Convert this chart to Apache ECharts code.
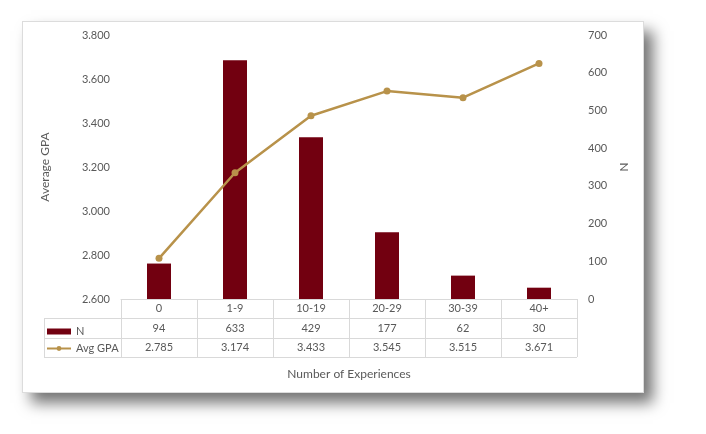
<!DOCTYPE html>
<html>
<head>
<meta charset="UTF-8">
<title>GPA by experiences</title>
<script src="https://cdn.jsdelivr.net/npm/echarts@6/dist/echarts.min.js"></script>
<style>
	html, body { margin: 0; padding: 0; background: #fff; }
	#card {
		position: absolute;
		left: 22px; top: 21px;
		width: 620px; height: 370px;
		background: #fff;
		border: 1px solid #dcdcdc;
		box-shadow: 9px 10px 14px rgba(0, 0, 0, 0.55);
	}
	#chart { position: absolute; left: 0; top: 0; width: 706px; height: 434px; }
</style>
</head>
<body>
<div id="card"></div>
<div id="chart"></div>
<script>
	var categories = ['0', '1-9', '10-19', '20-29', '30-39', '40+'];
	var nValues = [94, 633, 429, 177, 62, 30];
	var gpaValues = [2.785, 3.174, 3.433, 3.545, 3.515, 3.671];

	var txt = '#595959';
	var line = '#d9d9d9';
	var font = 'Lato, "Open Sans", sans-serif';

	var chart = echarts.init(document.getElementById('chart'));

	function hline(y, x1, x2) {
		return { type: 'line', shape: { x1: x1, y1: y, x2: x2, y2: y }, style: { stroke: line, lineWidth: 1 } };
	}

	var option = {
		animation: false,
		textStyle: { fontFamily: font },
		grid: { left: 121, right: 129, top: 35, bottom: 135 },
		legend: {
			orient: 'vertical',
			left: 41,
			top: 321,
			itemWidth: 24,
			itemHeight: 6,
			itemGap: 6,
			textStyle: { color: txt, fontSize: 11, fontFamily: font },
			data: [{ name: 'N', icon: 'rect' }, { name: 'Avg GPA' }]
		},
		xAxis: {
			type: 'category',
			data: categories,
			name: 'Number of Experiences',
			nameLocation: 'middle',
			nameGap: 69,
			nameTextStyle: { color: txt, fontSize: 12 },
			axisLine: { lineStyle: { color: line } },
			axisTick: { show: true, length: 58, lineStyle: { color: line } },
			axisLabel: {
				color: txt,
				fontSize: 11,
				margin: 0,
				lineHeight: 19.5,
				verticalAlign: 'top',
				formatter: function(v, i) {
					return v + '\n' + nValues[i] + '\n' + gpaValues[i].toFixed(3);
				}
			}
		},
		yAxis: [{
			type: 'value',
			min: 2.6,
			max: 3.8,
			interval: 0.2,
			name: 'Average GPA',
			nameLocation: 'middle',
			nameGap: 70,
			nameTextStyle: { color: txt, fontSize: 12 },
			axisLine: { show: false },
			axisTick: { show: false },
			splitLine: { show: false },
			axisLabel: {
				color: txt, fontSize: 11, margin: 11,
				formatter: function(v) { return v.toFixed(3); }
			}
		}, {
			type: 'value',
			min: 0,
			max: 700,
			interval: 100,
			name: 'N',
			nameLocation: 'middle',
			nameGap: 36,
			nameRotate: -90,
			nameTextStyle: { color: txt, fontSize: 12 },
			axisLine: { show: false },
			axisTick: { show: false },
			splitLine: { show: false },
			axisLabel: { color: txt, fontSize: 11, margin: 11 }
		}],
		series: [{
			name: 'N',
			type: 'bar',
			yAxisIndex: 1,
			barWidth: 24,
			data: nValues,
			itemStyle: { color: '#720010' }
		}, {
			name: 'Avg GPA',
			type: 'line',
			yAxisIndex: 0,
			data: gpaValues,
			symbol: 'circle',
			symbolSize: 7,
			lineStyle: { color: '#b8924a', width: 2.5 },
			itemStyle: { color: '#b8924a' }
		}],
		graphic: [
			hline(318.5, 44, 577),
			hline(338.5, 44, 577),
			hline(357.5, 44, 577),
			{ type: 'line', shape: { x1: 44.5, y1: 318, x2: 44.5, y2: 358 }, style: { stroke: line, lineWidth: 1 } }
		]
	};
	chart.setOption(option);
</script>
</body>
</html>
